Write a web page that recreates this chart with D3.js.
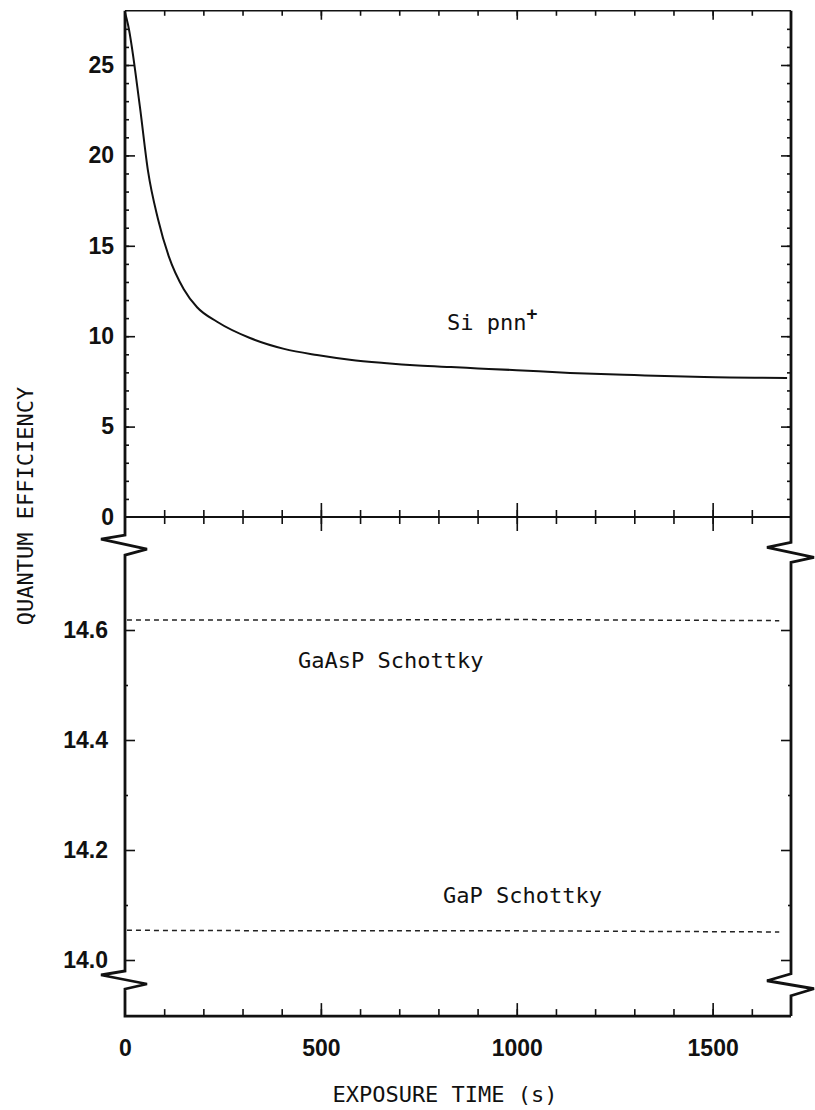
<!DOCTYPE html>
<html>
<head>
<meta charset="utf-8">
<script src="https://cdn.jsdelivr.net/npm/d3@7"></script>
<style>
  body { margin: 0; background: #fff; }
  svg { display: block; }
  .etiqueta { font-family: 'DejaVu Sans Mono', monospace; font-size: 22px; fill: #111; }
  .eje text { font-family: 'Liberation Sans', Arial, sans-serif; font-weight: bold; font-size: 23px; fill: #111; }
  .eje line { stroke: #111; stroke-width: 1.6; }
</style>
</head>
<body>
<div id="graf"></div>
<script>
// -- Datos --
tiempoSi     = [0, 8, 38, 59, 84, 112, 150, 184, 235, 319, 406, 490, 574, 661, 748, 832, 901, 1000, 1136, 1300, 1478, 1690]
eficienciaSi = [27.9, 27.2, 22.7, 19.1, 16.5, 14.4, 12.6, 11.6, 10.8, 9.9, 9.3, 8.96, 8.7, 8.52, 8.38, 8.29, 8.22, 8.12, 7.97, 7.85, 7.74, 7.69]

tiempoGaAsP     = [5, 500, 1000, 1670]
eficienciaGaAsP = [14.618, 14.618, 14.619, 14.617]

tiempoGaP     = [5, 500, 1000, 1670]
eficienciaGaP = [14.054, 14.053, 14.053, 14.051]

ticksX      = [0, 500, 1000, 1500]
ticksYsup   = [0, 5, 10, 15, 20, 25]
ticksYinf   = [14.0, 14.2, 14.4, 14.6]
menoresYinf = [14.1, 14.3, 14.5]

// -- Canvas --
ancho_total = 815
alto_total = 1110

svg = d3.select('#graf')
        .append('svg')
        .attr('width', ancho_total)
        .attr('height', alto_total)

// -- Escaladores --
x = d3.scaleLinear()
      .domain([0, 1700])
      .range([125, 791])

ySup = d3.scaleLinear()
         .domain([0, 25])
         .range([517, 65])

yInf = d3.scaleLinear()
         .domain([14.0, 14.6])
         .range([960, 630])

xIzq = x(0)
xDer = x(1700)
yTope = ySup(28)
yCero = ySup(0)
yFondo = yInf(13.898)

sinDominio = g => g.select('.domain').remove()

// -- Marco y cortes del eje --
marco = svg.append('g')
           .attr('fill', 'none')
           .attr('stroke', '#111')
           .attr('stroke-linejoin', 'miter')

// borde superior
marco.append('line')
     .attr('x1', xIzq).attr('x2', xDer)
     .attr('y1', yTope).attr('y2', yTope)
     .attr('stroke-width', 1.6)

// eje izquierdo con dos cortes
ladoIzq = [
  [xIzq, yTope], [xIzq, ySup(-1)],
  [xIzq - 24, ySup(-1) + 4], [xIzq + 22, ySup(-1) + 14], [xIzq, ySup(-1) + 20],
  [xIzq, yInf(13.98)],
  [xIzq - 24, yInf(13.98) + 4], [xIzq + 22, yInf(13.98) + 13], [xIzq, yInf(13.98) + 18],
  [xIzq, yFondo], [xDer, yFondo]
]
marco.append('path')
     .attr('d', d3.line()(ladoIzq))
     .attr('stroke-width', 2.8)

// eje derecho con dos cortes
ladoDer = [
  [xDer, yTope], [xDer, ySup(-1.4)],
  [xDer - 24, ySup(-1.4) + 5], [xDer + 23, ySup(-1.4) + 15], [xDer, ySup(-1.4) + 20],
  [xDer, yInf(13.975)],
  [xDer - 24, yInf(13.975) + 7], [xDer + 23, yInf(13.975) + 15], [xDer, yInf(13.975) + 22],
  [xDer, yFondo]
]
marco.append('path')
     .attr('d', d3.line()(ladoDer))
     .attr('stroke-width', 2.8)

// linea del cero
marco.append('line')
     .attr('x1', xIzq).attr('x2', xDer)
     .attr('y1', yCero).attr('y2', yCero)
     .attr('stroke-width', 2)

// -- Ticks --
menoresX = d3.range(100, 1700, 100)
mayoresX = [500, 1000, 1500]

function grupoEje(tx, ty) {
  return svg.append('g')
            .attr('class', 'eje')
            .attr('transform', `translate(${tx}, ${ty})`)
}

// superior (hacia abajo)
grupoEje(0, yTope).call(d3.axisBottom(x).tickValues(menoresX).tickSize(5).tickFormat('')).call(sinDominio)
grupoEje(0, yTope).call(d3.axisBottom(x).tickValues(mayoresX).tickSize(9).tickFormat('')).call(sinDominio)

// cero (cruzados)
grupoEje(0, yCero).call(d3.axisBottom(x).tickValues(menoresX).tickSize(7).tickFormat('')).call(sinDominio)
grupoEje(0, yCero).call(d3.axisTop(x).tickValues(menoresX).tickSize(7).tickFormat('')).call(sinDominio)
grupoEje(0, yCero).call(d3.axisBottom(x).tickValues(mayoresX).tickSize(14).tickFormat('')).call(sinDominio)
grupoEje(0, yCero).call(d3.axisTop(x).tickValues(mayoresX).tickSize(14).tickFormat('')).call(sinDominio)

// inferior (hacia arriba) + etiquetas
grupoEje(0, yFondo).call(d3.axisTop(x).tickValues(menoresX).tickSize(7).tickFormat('')).call(sinDominio)
grupoEje(0, yFondo).call(d3.axisTop(x).tickValues(mayoresX).tickSize(13).tickFormat('')).call(sinDominio)
grupoEje(0, yFondo).call(d3.axisBottom(x).tickValues(ticksX).tickSize(0).tickPadding(24).tickFormat(d3.format('d'))).call(sinDominio)

// y superior, ambos lados (hacia adentro)
menoresYsup = d3.range(1, 28)
grupoEje(xIzq, 0).call(d3.axisRight(ySup).tickValues(menoresYsup).tickSize(4).tickFormat('')).call(sinDominio)
grupoEje(xIzq, 0).call(d3.axisRight(ySup).tickValues(ticksYsup.slice(1)).tickSize(10).tickFormat('')).call(sinDominio)
grupoEje(xDer, 0).call(d3.axisLeft(ySup).tickValues(menoresYsup).tickSize(4).tickFormat('')).call(sinDominio)
grupoEje(xDer, 0).call(d3.axisLeft(ySup).tickValues(ticksYsup.slice(1)).tickSize(10).tickFormat('')).call(sinDominio)
grupoEje(xIzq, 0).call(d3.axisLeft(ySup).tickValues(ticksYsup).tickSize(0).tickPadding(11).tickFormat(d3.format('d'))).call(sinDominio)

// y inferior, ambos lados
grupoEje(xIzq, 0).call(d3.axisRight(yInf).tickValues(menoresYinf).tickSize(3).tickFormat('')).call(sinDominio)
grupoEje(xIzq, 0).call(d3.axisRight(yInf).tickValues(ticksYinf).tickSize(10).tickFormat('')).call(sinDominio)
grupoEje(xDer, 0).call(d3.axisLeft(yInf).tickValues(menoresYinf).tickSize(3).tickFormat('')).call(sinDominio)
grupoEje(xDer, 0).call(d3.axisLeft(yInf).tickValues(ticksYinf).tickSize(10).tickFormat('')).call(sinDominio)
grupoEje(xIzq, 0).call(d3.axisLeft(yInf).tickValues(ticksYinf).tickSize(0).tickPadding(17).tickFormat(d3.format('.1f'))).call(sinDominio)

// -- Series --
lineaSup = d3.line()
             .x(d => x(d[0]))
             .y(d => ySup(d[1]))
             .curve(d3.curveMonotoneX)

lineaInf = d3.line()
             .x(d => x(d[0]))
             .y(d => yInf(d[1]))

svg.append('path')
   .attr('d', lineaSup(d3.zip(tiempoSi, eficienciaSi)))
   .attr('fill', 'none')
   .attr('stroke', '#111')
   .attr('stroke-width', 2)

svg.append('path')
   .attr('d', lineaInf(d3.zip(tiempoGaAsP, eficienciaGaAsP)))
   .attr('fill', 'none')
   .attr('stroke', '#222')
   .attr('stroke-width', 1.5)
   .attr('stroke-dasharray', '5 4')

svg.append('path')
   .attr('d', lineaInf(d3.zip(tiempoGaP, eficienciaGaP)))
   .attr('fill', 'none')
   .attr('stroke', '#222')
   .attr('stroke-width', 1.5)
   .attr('stroke-dasharray', '5 4')

// -- Textos --
si = svg.append('text')
        .attr('class', 'etiqueta')
        .attr('x', 447)
        .attr('y', 330)
si.append('tspan').text('Si pnn')
si.append('tspan').attr('dy', -10).attr('font-size', 18).attr('font-weight', 'bold').text('+')

svg.append('text')
   .attr('class', 'etiqueta')
   .attr('x', 298)
   .attr('y', 668)
   .text('GaAsP Schottky')

svg.append('text')
   .attr('class', 'etiqueta')
   .attr('x', 443)
   .attr('y', 903)
   .text('GaP Schottky')

svg.append('text')
   .attr('class', 'etiqueta')
   .attr('text-anchor', 'middle')
   .attr('x', 445)
   .attr('y', 1102)
   .text('EXPOSURE TIME (s)')

svg.append('text')
   .attr('class', 'etiqueta')
   .attr('text-anchor', 'middle')
   .attr('transform', 'translate(33, 506) rotate(-90)')
   .text('QUANTUM EFFICIENCY')
</script>
</body>
</html>
